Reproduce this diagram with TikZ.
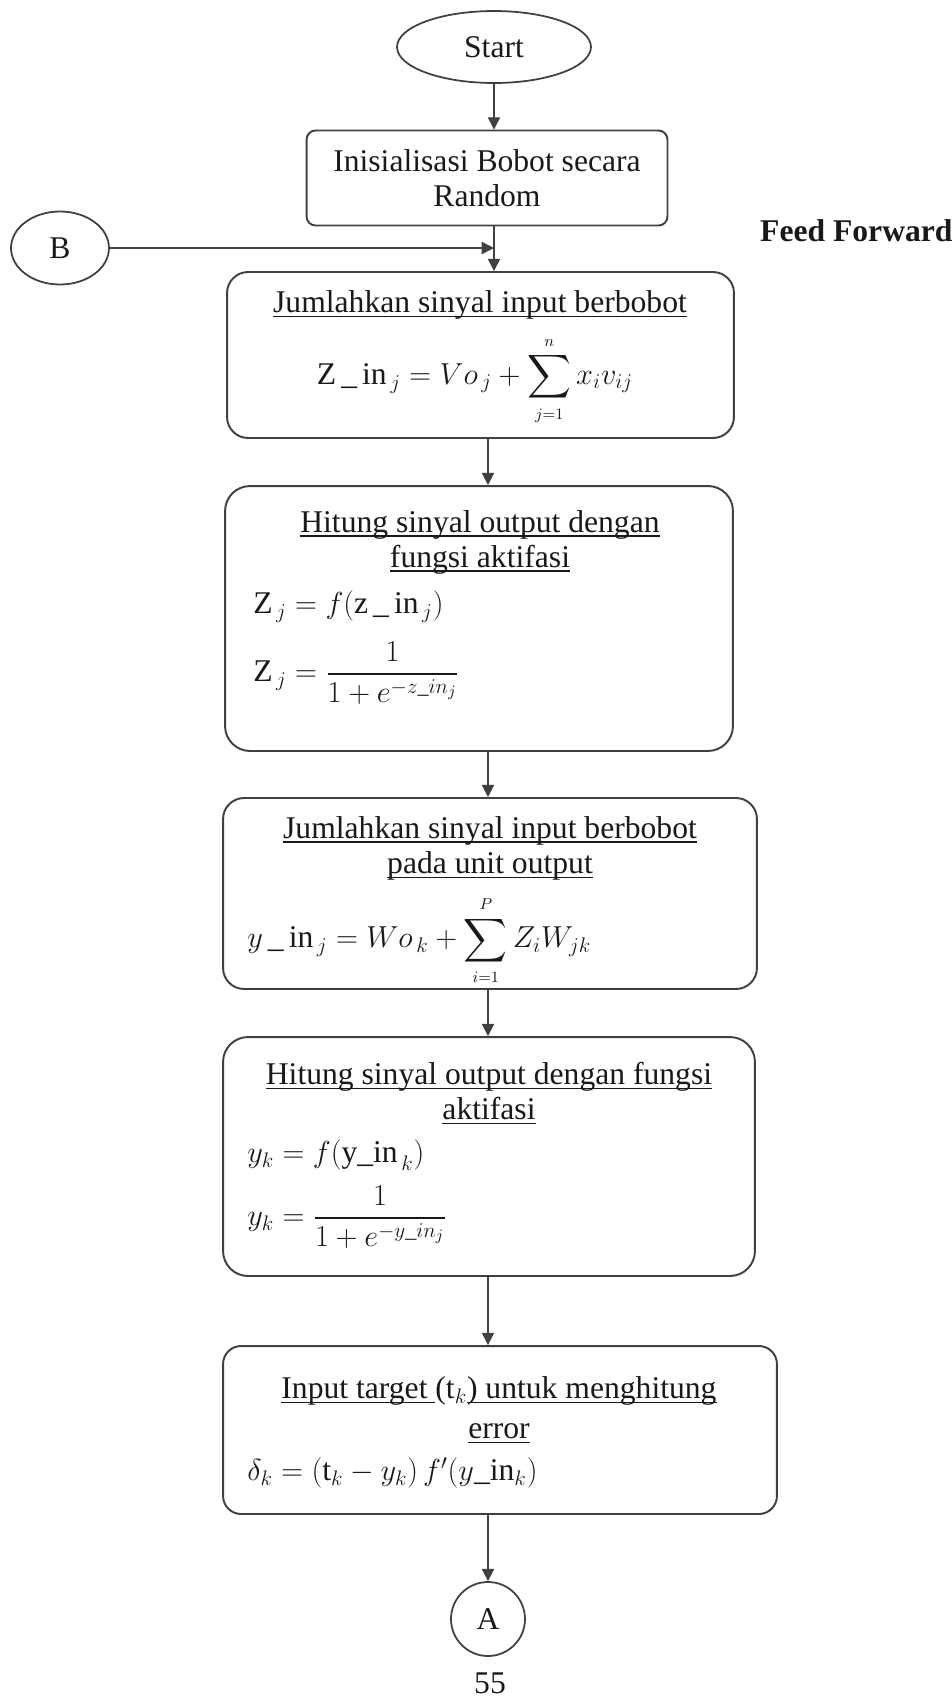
\documentclass[tikz,border=0pt]{standalone}
\usepackage{amsmath}
\usepackage{fontspec}
\setmainfont{Liberation Serif}
\usetikzlibrary{arrows.meta, positioning, shapes.geometric}
\newcommand{\ulin}[1]{\setbox0\hbox{#1}\rlap{\rule[-2.6pt]{\wd0}{0.7pt}}\box0}

\begin{document}
\begin{tikzpicture}[x=0.02cm, y=-0.02cm,
    every node/.style={font=\fontsize{18}{20}\selectfont, text=black!90},
    bx/.style={rounded corners=0.42cm, draw=black!75, line width=1.1pt},
    term/.style={ellipse, draw=black!75, line width=1pt, inner sep=0pt},
    con/.style={circle, draw=black!75, line width=1pt, inner sep=0pt, minimum size=1.48cm},
    ttl/.style={align=center, inner sep=0pt},
    frm/.style={anchor=west, inner sep=0pt},
    a/.style={-{Triangle[length=7pt, width=7pt]}, line width=0.8pt, draw=black!75}
]
\useasboundingbox (0,0) rectangle (951,1698);
\node[term, minimum width=3.88cm, minimum height=1.44cm] (start) at (494,47) {Start};
\node[bx, rounded corners=0.18cm, minimum width=7.22cm, minimum height=1.9cm, align=center] (init) at (487,178) {Inisialisasi Bobot secara\\Random};
\node[term, minimum width=1.96cm, minimum height=1.46cm] (B) at (60,248) {B};
\node[font=\fontsize{18}{20}\selectfont\bfseries, anchor=west] (ff) at (754,231) {Feed Forward};
% feed forward boxes
\node[bx, minimum width=10.14cm, minimum height=3.32cm] (j1) at (480.5,355) {};
\node[ttl] (j1t) at (480,305) {\ulin{Jumlahkan sinyal input berbobot}};
\node[inner sep=0pt] (j1f) at (475,381) {$\mathrm{Z\,\_\,in}_{\,j} = Vo_{\,j} + \displaystyle\sum_{\scriptscriptstyle j=1}^{\scriptscriptstyle n} x_i v_{ij}$};
\node[bx, rounded corners=0.5cm, minimum width=10.16cm, minimum height=5.3cm] (h1) at (479,618.5) {};
\node[ttl] (h1t) at (480,542) {\ulin{Hitung sinyal output dengan}\\\ulin{fungsi aktifasi}};
\node[frm] (h1f) at (253,607) {$\mathrm{Z}_{\,j} = f(\mathrm{z\,\_\,in}_{\,j})$};
\node[frm] (h1g) at (253,673) {$\mathrm{Z}_{\,j} = \dfrac{1}{1+e^{-z\_in_j}}$};
\node[bx, minimum width=10.68cm, minimum height=3.82cm] (j2) at (490,893.5) {};
\node[ttl] (j2t) at (490,848) {\ulin{Jumlahkan sinyal input berbobot}\\\ulin{pada unit output}};
\node[frm] (j2f) at (247,941) {$y\,\_\,\mathrm{in}_{\,j} = Wo_{\,k} + \displaystyle\sum_{\scriptscriptstyle i=1}^{\scriptscriptstyle P} Z_i W_{jk}$};
\node[bx, rounded corners=0.5cm, minimum width=10.64cm, minimum height=4.78cm] (h2) at (489,1156.5) {};
\node[ttl] (h2t) at (489,1093) {\ulin{Hitung sinyal output dengan fungsi}\\\ulin{aktifasi}};
\node[frm] (h2f) at (247,1155) {$y_k = f(\mathrm{y\_in}_{\,k})$};
\node[frm] (h2g) at (247,1217) {$y_k = \dfrac{1}{1+e^{-y\_in_j}}$};
\node[bx, rounded corners=0.36cm, minimum width=11.08cm, minimum height=3.36cm] (tgt) at (500,1430) {};
\node[ttl] (tgtt) at (499,1410) {\ulin{Input target }(t$_k$\ulin{) untuk menghitung}\\[3pt]\ulin{error}};
\node[frm] (tgtf) at (247,1473) {$\delta_k = (\mathrm{t}_k - y_k)\, f'(y\_\mathrm{in}_k)$};
\node[con] (A) at (488,1619) {A};
\node (pg) at (490,1683) {55};
% arrows
\draw[a] (start) -- (start |- init.north);
\draw[a] (start |- init.south) -- (start |- j1.north);
\draw[a] (B) -- (start |- B);
\draw[a] (A |- j1.south) -- (A |- h1.north);
\draw[a] (A |- h1.south) -- (A |- j2.north);
\draw[a] (A |- j2.south) -- (A |- h2.north);
\draw[a] (A |- h2.south) -- (A |- tgt.north);
\draw[a] (A |- tgt.south) -- (A);
\end{tikzpicture}
\end{document}
